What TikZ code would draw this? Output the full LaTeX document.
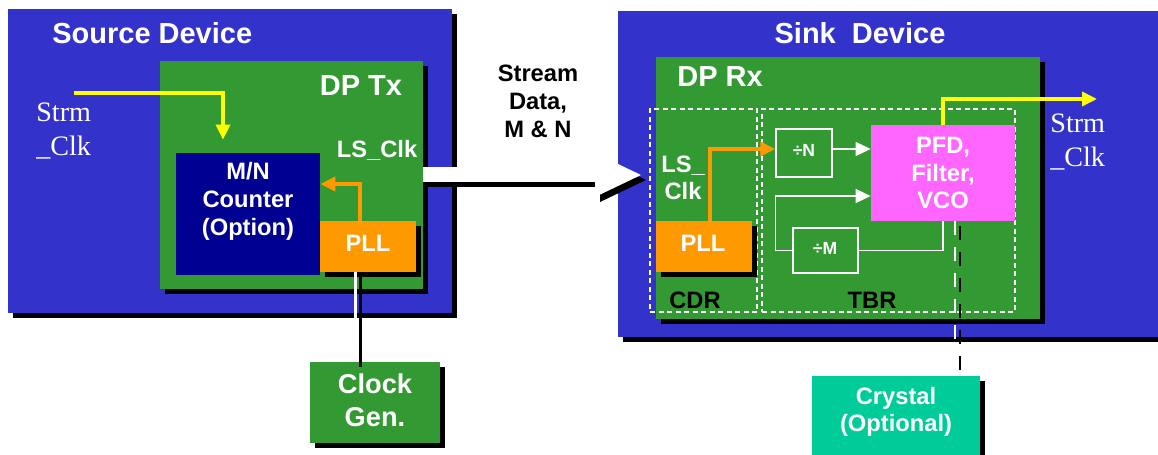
\documentclass[tikz,border=0pt]{standalone}
\usepackage{fontspec}
\setmainfont{Liberation Sans}
\newfontfamily\clkserif{Liberation Serif}
\usetikzlibrary{arrows.meta,fit,shadows}
\definecolor{dpBlue}{RGB}{51, 51, 204}
\definecolor{dpGreen}{RGB}{51, 153, 51}
\definecolor{dpNavy}{RGB}{0, 0, 145}
\definecolor{dpOrange}{RGB}{255, 153, 0}
\definecolor{dpPink}{RGB}{255, 102, 255}
\definecolor{dpYellow}{RGB}{255, 255, 0}
\definecolor{dpTeal}{RGB}{0, 204, 153}

\begin{document}
\begin{tikzpicture}[
  x=0.02cm, y=-0.02cm,
  panel/.style={
    inner sep=0pt,
    drop shadow={shadow xshift=0.1cm, shadow yshift=-0.1cm, fill=black, opacity=1}
  },
  block/.style={inner sep=0pt},
  devtitle/.style={inner sep=0pt, text=white, font=\fontsize{16.5}{20}\selectfont\bfseries},
  blocktext/.style={inner sep=0pt, align=center, text=white, font=\fontsize{13.5}{15.5}\selectfont\bfseries},
  clktext/.style={inner sep=0pt, align=left, text=white, font=\clkserif\fontsize{16}{19}\selectfont},
  stage/.style={inner sep=0pt, draw=white, line width=0.03cm, dash pattern=on 0.1cm off 0.07cm},
  divbox/.style={inner sep=0pt, draw=white, line width=0.03cm},
  divtext/.style={inner sep=0pt, text=white, font=\fontsize{10}{12}\selectfont\bfseries},
  yarrow/.style={dpYellow, line width=0.07cm, -{Triangle[length=0.3cm, width=0.28cm]}},
  oarrow/.style={dpOrange, line width=0.08cm, -{Triangle[length=0.3cm, width=0.28cm]}},
  warrow/.style={white, line width=0.03cm, -{Triangle[length=0.3cm, width=0.28cm]}},
  wline/.style={white, line width=0.03cm},
  linkarrow/.style={line width=0.3cm, -{Triangle[length=0.92cm, width=0.88cm, line width=0pt]}},
  xline/.style={line width=0.05cm, dash pattern=on 0.28cm off 0.24cm},
  lineshadow/.style={black, transform canvas={xshift=0.1cm, yshift=-0.1cm}}
]
  \path[use as bounding box, clip] (0,0) rectangle (1158,455);

  \node[panel, fill=dpBlue, fit={(8,9) (452,313)}] (source) {};
  \node[devtitle, anchor=west] (sourcetitle) at (52,33) {Source Device};
  \node[panel, fill=dpBlue, fit={(618,11) (1180,337)}] (sink) {};
  \node[devtitle] (sinktitle) at (860,33) {Sink~~Device};

  \node[panel, fill=dpGreen, fit={(160,61) (423,289)}] (tx) {};
  \node[devtitle] (txtitle) at (361,86) {DP Tx};
  \node[block, fill=dpNavy, fit={(176,153) (320,275)}] (mn) {};
  \node[blocktext, font=\fontsize{13.5}{16}\selectfont\bfseries] (mntext) at (248,201) {M/N\\Counter\\(Option)};
  \node[panel, fill=dpOrange, fit={(320,221) (416,272)}] (txpll) {};
  \node[blocktext] (txplltext) at (368,243) {PLL};
  \node[blocktext] (txclk) at (377,150) {LS\_Clk};
  \node[clktext, anchor=west] (strmin) at (36,131) {Strm\\\_Clk};
  \coordinate (strmstart) at (74,93);
  \draw[oarrow] ([xshift=-0.16cm]txpll.north) |- ([yshift=0.6cm]mn.east);
  \draw[yarrow] (strmstart) -| ([xshift=-0.5cm, yshift=0.26cm]mn.north);

  \node[panel, fill=dpGreen, fit={(656,57) (1040,319)}] (rx) {};
  \node[devtitle] (rxtitle) at (720,77) {DP Rx};
  \node[stage, fit={(650,109) (757,312)}] (cdr) {};
  \node[stage, fit={(762,109) (1015,312)}] (tbr) {};
  \node[blocktext, text=black] (cdrtext) at (695,300) {CDR};
  \node[blocktext, text=black] (tbrtext) at (872,300) {TBR};
  \node[blocktext, font=\fontsize{13.5}{15}\selectfont\bfseries] (rxclk) at (683,178) {LS\_\\Clk};
  \node[panel, fill=dpOrange, fit={(656,221) (752,272)}] (rxpll) {};
  \node[blocktext] (rxplltext) at (703,243) {PLL};
  \node[divbox, fit={(776,129) (832,177)}] (divn) {};
  \node[divtext] (divntext) at (804,150) {÷N};
  \node[divbox, fit={(793,228) (858,273)}] (divm) {};
  \node[divtext] (divmtext) at (825,248) {÷M};
  \node[block, fill=dpPink, fit={(871,125) (1015,221)}] (pfd) {};
  \node[blocktext] (pfdtext) at (943,173) {PFD,\\Filter,\\VCO};
  \node[clktext, anchor=west] (strmout) at (1050,142) {Strm\\\_Clk};
  \coordinate (strmend) at (1097,99);
  \draw[oarrow] ([xshift=0.12cm]rxpll.north) |- ([yshift=0.08cm]divn.west);
  \draw[warrow] ([yshift=0.08cm]divn.east) -- ([yshift=0.08cm]divn.east -| pfd.west);
  \draw[wline] (pfd.south) |- (divm.east);
  \draw[warrow] (divm.west) -- (divm.west -| divn.west) |- ([yshift=-0.46cm]pfd.west);
  \draw[yarrow] (pfd.north) |- (strmend);

  \coordinate (linktip) at (641,175);
  \draw[linkarrow, lineshadow] (tx.east |- linktip) -- (linktip);
  \draw[linkarrow, white] (tx.east |- linktip) -- (linktip);
  \node[blocktext, text=black, font=\fontsize{13.5}{16}\selectfont\bfseries] (streamtext) at (538,101) {Stream\\Data,\\M \& N};

  \node[panel, fill=dpGreen, fit={(310,362) (440,443)}] (clkgen) {};
  \node[blocktext, font=\fontsize{15.5}{18.7}\selectfont\bfseries] (clkgentext) at (375,400) {Clock\\Gen.};
  \node[panel, fill=dpTeal, fit={(812,376) (980,470)}] (xtal) {};
  \node[blocktext] (xtaltext) at (896,412) {Crystal\\(Optional)};

  \draw[line width=0.06cm, lineshadow] ([xshift=-0.26cm]txpll.south) -- ([xshift=-0.26cm]txpll.south |- clkgen.north);
  \draw[line width=0.06cm, white] ([xshift=-0.26cm]txpll.south) -- ([xshift=-0.26cm]txpll.south |- clkgen.north);
  \draw[xline, lineshadow] ([xshift=0.24cm]pfd.south) -- ([xshift=0.24cm]pfd.south |- xtal.north);
  \draw[xline, white] ([xshift=0.24cm]pfd.south) -- ([xshift=0.24cm]pfd.south |- xtal.north);
\end{tikzpicture}
\end{document}
